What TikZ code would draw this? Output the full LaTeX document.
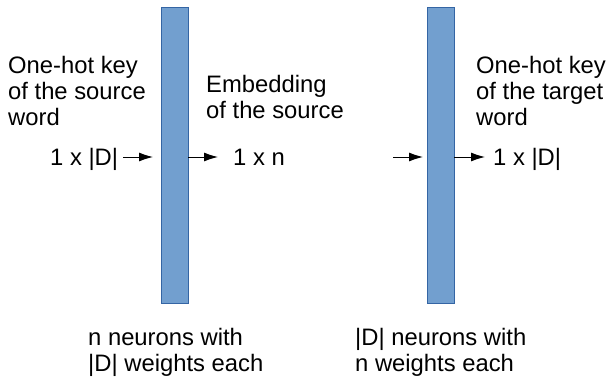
\documentclass[tikz,border=0pt]{standalone}
\usepackage{fontspec}
\setmainfont{Liberation Sans}
\usetikzlibrary{arrows.meta}
\definecolor{barfill}{HTML}{729FCF}
\definecolor{barline}{HTML}{3465A4}
\begin{document}
\begin{tikzpicture}[x=1pt,y=-1pt,
  layerbar/.style={draw=barline,fill=barfill,line width=0.8pt,minimum width=27pt,minimum height=296pt,inner sep=0pt},
  lbl/.style={anchor=base west,inner sep=0pt,align=left,font=\fontsize{23.8}{26}\selectfont},
  arr/.style={-{Latex[length=14pt,width=9pt]},line width=0.9pt,black}]
\useasboundingbox (0,0) rectangle (607,376);
\node[layerbar] (b1) at (174.5,155) {};
\node[layerbar] (b2) at (440.5,155) {};
\node[lbl] (srckey) at (8,125) {One-hot key\\of the source\\word};
\node[lbl] (emb) at (206,118) {Embedding\\of the source};
\node[lbl] (tgtkey) at (476,125) {One-hot key\\of the target\\word};
\node[lbl] (in1) at (50,165) {1 x |D|};
\node[lbl] (out1) at (233,165) {1 x n};
\node[lbl] (out2) at (493,165) {1 x |D|};
\node[lbl] (cap1) at (88,371) {n neurons with\\|D| weights each};
\node[lbl] (cap2) at (355,371) {|D| neurons with\\n weights each};
\coordinate (a1s) at (123,157);
\coordinate (a1e) at (153,157);
\coordinate (a2e) at (218,157);
\coordinate (a3s) at (393,157);
\coordinate (a3e) at (423,157);
\coordinate (a4e) at (485,157);
\draw[arr] (a1s) -- (a1e);
\draw[arr] (b1.east |- a2e) -- (a2e);
\draw[arr] (a3s) -- (a3e);
\draw[arr] (b2.east |- a4e) -- (a4e);
\end{tikzpicture}
\end{document}
